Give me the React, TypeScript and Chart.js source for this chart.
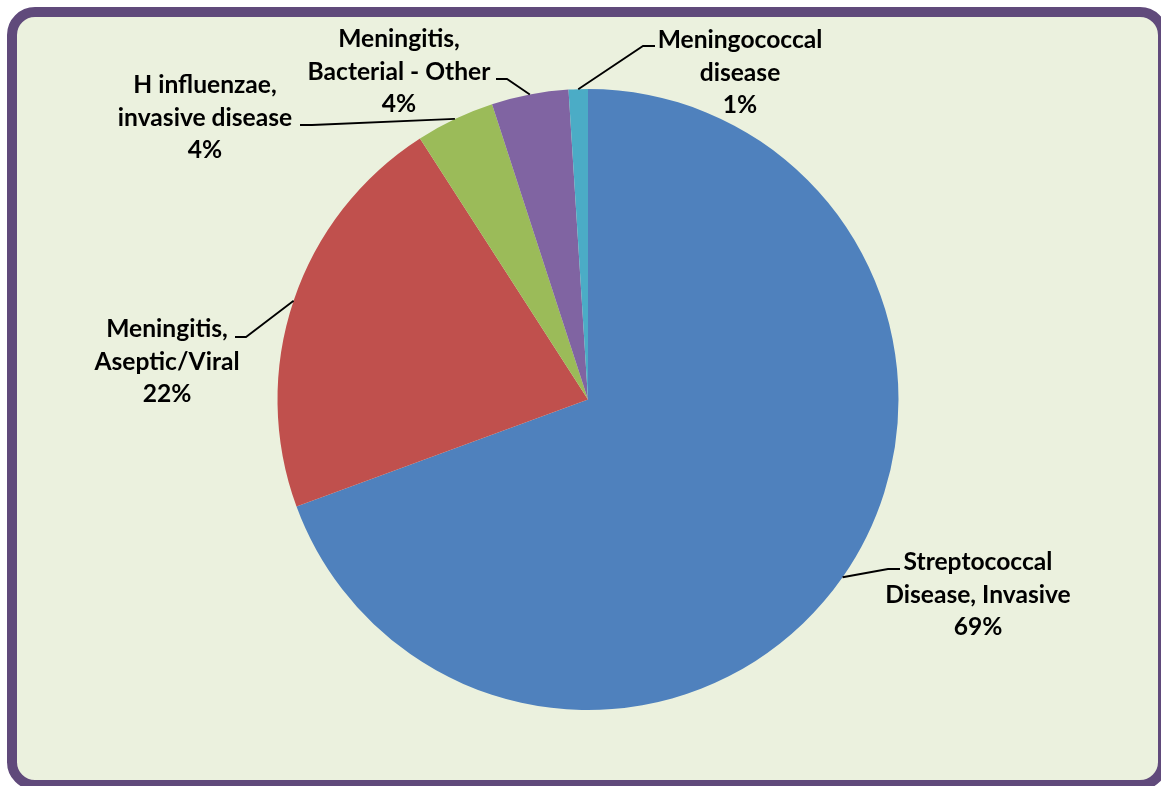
import React, { useEffect, useRef } from "react";
import { Chart, registerables } from "chart.js";

Chart.register(...registerables);

const categories = [
  "Streptococcal Disease, Invasive",
  "Meningitis, Aseptic/Viral",
  "H influenzae, invasive disease",
  "Meningitis, Bacterial - Other",
  "Meningococcal disease",
];
const values = [69.4, 21.5, 4.1, 4.0, 1.0];
const labelLines = [
  ["Streptococcal", "Disease, Invasive"],
  ["Meningitis,", "Aseptic/Viral"],
  ["H influenzae,", "invasive disease"],
  ["Meningitis,", "Bacterial - Other"],
  ["Meningococcal", "disease"],
];
const colors = ["#4F81BD", "#C0504D", "#9BBB59", "#8064A2", "#4BACC6"];

// layout of callout labels (text block centre, connector elbow/end)
const labelLayout = [
  { cx: 978, cy: 595, elbowX: 888, endX: 900, lineY: 569 },
  { cx: 167, cy: 362, elbowX: 246, endX: 235, lineY: 337 },
  { cx: 205, cy: 118, elbowX: 312, endX: 300, lineY: 125 },
  { cx: 399, cy: 72, elbowX: 507, endX: 496, lineY: 79 },
  { cx: 740, cy: 73, elbowX: 643, endX: 655, lineY: 46 },
];

const LINE_H = 32.5;
const FONT = "bold 24.6px Lato, 'Open Sans', sans-serif";

const calloutPlugin = {
  id: "calloutLabels",
  afterDraw(chart: any) {
    const ctx = chart.ctx;
    const meta = chart.getDatasetMeta(0);
    const data = chart.data.datasets[0].data as number[];
    const total = data.reduce((a, b) => a + b, 0);
    ctx.save();
    meta.data.forEach((arc: any, i: number) => {
      const p = arc.getProps(["x", "y", "startAngle", "endAngle", "outerRadius"], true);
      const mid = (p.startAngle + p.endAngle) / 2;
      const ax = p.x + Math.cos(mid) * p.outerRadius;
      const ay = p.y + Math.sin(mid) * p.outerRadius;
      const L = labelLayout[i];
      ctx.beginPath();
      ctx.strokeStyle = "#000";
      ctx.lineWidth = 1.8;
      ctx.moveTo(ax, ay);
      ctx.lineTo(L.elbowX, L.lineY);
      ctx.lineTo(L.endX, L.lineY);
      ctx.stroke();

      const pct = Math.round((data[i] / total) * 100 + 1e-6) + "%";
      const lines = [...labelLines[i], pct];
      ctx.fillStyle = "#000";
      ctx.font = FONT;
      ctx.textAlign = "center";
      ctx.textBaseline = "middle";
      const n = lines.length;
      lines.forEach((t, k) => {
        ctx.fillText(t, L.cx, L.cy + (k - (n - 1) / 2) * LINE_H);
      });
    });
    ctx.restore();
  },
};

export default function App() {
  const canvasRef = useRef<HTMLCanvasElement | null>(null);

  useEffect(() => {
    document.body.style.margin = "0";
    const canvas = canvasRef.current;
    if (!canvas) return;
    const chart = new Chart(canvas, {
      type: "pie",
      data: {
        labels: categories,
        datasets: [
          {
            data: values,
            backgroundColor: colors,
            borderWidth: 0,
          },
        ],
      },
      options: {
        animation: false,
        responsive: false,
        maintainAspectRatio: false,
        layout: { padding: { left: 277.5, right: 262.5, top: 89, bottom: 76 } },
        plugins: {
          legend: { display: false },
          tooltip: { enabled: false },
          title: { display: false },
        },
      },
      plugins: [calloutPlugin],
    });
    return () => chart.destroy();
  }, []);

  return (
    <div
      style={{
        position: "fixed",
        left: 0,
        top: 0,
        width: 1161,
        height: 786,
        background: "#ffffff",
        overflow: "hidden",
      }}
    >
      <div
        style={{
          position: "absolute",
          left: 7,
          top: 7,
          width: 1161,
          height: 783,
          boxSizing: "border-box",
          border: "10px solid #604A7B",
          borderRadius: 28,
          background: "#EBF1DE",
        }}
      />
      <canvas
        ref={canvasRef}
        width={1161}
        height={786}
        style={{ position: "absolute", left: 0, top: 0, width: 1161, height: 786 }}
      />
    </div>
  );
}
